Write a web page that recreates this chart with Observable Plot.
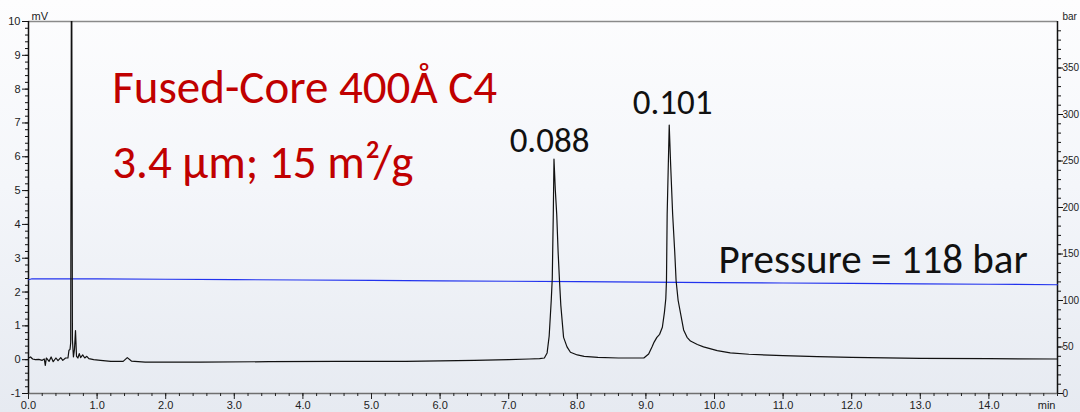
<!DOCTYPE html>
<html>
<head>
<meta charset="utf-8">
<script src="https://cdn.jsdelivr.net/npm/d3@7"></script>
<script src="https://cdn.jsdelivr.net/npm/@observablehq/plot@0.6"></script>
<style>
  html, body { margin: 0; padding: 0; }
  body { width: 1080px; height: 412px; overflow: hidden;
         background: linear-gradient(180deg, #fdfdfe 0%, #f4f6fa 45%, #e6eaf1 100%); }
  svg { display: block; }
</style>
</head>
<body>
<div id="chart"></div>
<script>
// ---- Data ----
// Detector signal: [time (min), signal (mV)]
const signalTime = [0.00,0.03,0.06,0.10,0.15,0.20,0.23,0.245,0.26,0.30,0.33,0.36,0.40,0.43,0.47,0.50,0.54,0.575,0.59,0.605,0.615,0.628,0.64,0.655,0.67,0.685,0.70,0.72,0.74,0.76,0.79,0.82,0.85,0.88,0.95,1.05,1.20,1.38,1.44,1.50,1.70,2.50,3.50,4.50,5.50,6.50,7.00,7.30,7.45,7.52,7.56,7.59,7.62,7.635,7.65,7.66,7.68,7.70,7.72,7.74,7.76,7.80,7.85,7.90,8.00,8.10,8.30,8.60,8.97,9.04,9.09,9.12,9.16,9.20,9.24,9.27,9.29,9.30,9.31,9.34,9.36,9.39,9.42,9.44,9.47,9.55,9.60,9.65,9.75,9.84,10.04,10.23,10.50,11.00,11.50,12.00,13.00,14.00,15.00];
const signalMV   = [0.05,0.08,0.02,0.00,0.01,-0.02,0.02,-0.17,0.05,-0.05,0.08,-0.06,0.05,-0.03,0.06,-0.02,0.05,0.05,0.28,0.30,0.50,14.0,0.60,0.08,0.30,0.86,0.10,0.05,0.18,0.06,0.14,0.05,0.10,0.03,0.00,-0.02,-0.05,-0.05,0.06,-0.04,-0.07,-0.07,-0.06,-0.05,-0.05,-0.02,0.00,0.02,0.03,0.05,0.20,0.70,1.75,2.40,4.30,5.93,5.00,4.30,3.20,2.35,1.60,0.66,0.38,0.22,0.14,0.10,0.07,0.05,0.05,0.17,0.38,0.52,0.66,0.75,0.96,1.40,1.80,2.34,4.30,6.94,5.80,4.30,3.20,2.34,1.75,0.88,0.66,0.55,0.45,0.38,0.27,0.20,0.16,0.12,0.09,0.07,0.04,0.03,0.02];

// Pump pressure: [time (min), pressure (bar)]
const pressureTime = [0,0.05,1,2,3,4,5,6,7,8,9,10,11,12,13,14,15];
const pressureBar  = [122.3,123.3,123.3,122.9,122.5,122.0,121.6,121.1,120.7,120.3,119.8,119.2,118.8,118.4,117.9,117.5,117.0];

// Axis ticks
const timeTicks = d3.range(0, 15, 1);            // 0.0 … 14.0
const timeMinor = d3.range(0, 15.01, 0.2);
const mvTicks = d3.range(-1, 11, 1);              // -1 … 10
const mvMinor = d3.range(-1, 10.01, 0.2);
const barTicks = [0,50,100,150,200,250,300,350];
const barMinor = d3.range(0, 400, 10);

// Annotations (data coordinates)
const titleLines = ["Fused-Core 400Å C4", "3.4 µm; 15 m²/g"];
const titleT = [1.22, 1.22];
const titleY = [7.59, 5.38];
const peakLabels = ["0.088", "0.101"];
const peakLabelT = [7.595, 9.39];
const peakLabelY = [6.14, 7.27];
const pressureLabel = ["Pressure = 118 bar"];
const pressureLabelT = [10.06];
const pressureLabelY = [2.565];

// Right axis mapping: 0–400 bar spans -1–10 mV
const barMax = 400, mvMin = -1, mvMax = 10;
const bar2mv = b => mvMin + b * (mvMax - mvMin) / barMax;
const mv2bar = v => (v - mvMin) * barMax / (mvMax - mvMin);

const signal = signalTime.map((t, i) => ({t, v: signalMV[i]}));
const pressure = pressureTime.map((t, i) => ({t, v: bar2mv(pressureBar[i])}));
const titles = titleLines.map((s, i) => ({s, t: titleT[i], v: titleY[i]}));
const peaks = peakLabels.map((s, i) => ({s, t: peakLabelT[i], v: peakLabelY[i]}));
const plab = pressureLabel.map((s, i) => ({s, t: pressureLabelT[i], v: pressureLabelY[i]}));

const bigFont = "Carlito, Calibri, Lato, 'Open Sans', sans-serif";

const chart = Plot.plot({
  width: 1080,
  height: 412,
  marginLeft: 28,
  marginRight: 23,
  marginTop: 21,
  marginBottom: 19,
  style: { background: "transparent", fontFamily: "'Liberation Sans', Arial, sans-serif", fontSize: "11px", color: "#222" },
  x: { domain: [0, 15] },
  y: { domain: [mvMin, mvMax] },
  marks: [
    // frame lines
    Plot.ruleY([mvMax], { stroke: "#8a8a8a", strokeWidth: 1.5 }),
    Plot.ruleY([mvMin], { stroke: "#6f6f6f", strokeWidth: 1.5 }),
    Plot.ruleX([0], { stroke: "#111", strokeWidth: 1.5 }),
    Plot.ruleX([15], { stroke: "#111", strokeWidth: 1.5 }),
    // left axis
    Plot.axisY({ ticks: mvTicks, tickSize: 6, tickPadding: 2, tickFormat: d => d, label: null, stroke: "#111" }),
    Plot.axisY({ ticks: mvMinor, tickSize: 3, tickFormat: () => "", label: null, stroke: "#111" }),
    // right axis (bar)
    Plot.axisY({ anchor: "right", ticks: barTicks.map(bar2mv), tickSize: 5, tickPadding: 0, fontSize: 10, tickFormat: d => Math.round(mv2bar(d)), label: null, stroke: "#111" }),
    Plot.axisY({ anchor: "right", ticks: barMinor.map(bar2mv), tickSize: 3, tickFormat: () => "", label: null, stroke: "#111" }),
    // bottom axis
    Plot.axisX({ ticks: timeTicks, tickSize: 6, tickPadding: 2, tickFormat: d => d.toFixed(1), label: null, stroke: "#222" }),
    Plot.axisX({ ticks: timeMinor, tickSize: 3, tickFormat: () => "", label: null, stroke: "#222" }),
    // unit labels
    Plot.text(["mV"], { frameAnchor: "top-left", dx: 3, dy: -9, textAnchor: "start", fontSize: 11, fill: "#222" }),
    Plot.text(["bar"], { frameAnchor: "top-right", dx: 5, dy: -9, textAnchor: "start", fontSize: 10, fill: "#222" }),
    Plot.text(["min"], { frameAnchor: "bottom-right", dx: -2, dy: 15, textAnchor: "end", fontSize: 11, fill: "#222" }),
    // pressure trace
    Plot.line(pressure, { x: "t", y: "v", stroke: "#2233ee", strokeWidth: 1.1 }),
    // detector signal
    Plot.line(signal, { x: "t", y: "v", stroke: "#111", strokeWidth: 1.2, clip: true, curve: "linear" }),
    // annotations
    Plot.text(titles, { x: "t", y: "v", text: "s", textAnchor: "start", lineAnchor: "bottom", fontSize: 47, fill: "#c00000", fontFamily: bigFont }),
    Plot.text(peaks, { x: "t", y: "v", text: "s", textAnchor: "middle", lineAnchor: "bottom", fontSize: 35, fill: "#111", fontFamily: bigFont }),
    Plot.text(plab, { x: "t", y: "v", text: "s", textAnchor: "start", lineAnchor: "bottom", fontSize: 41, fill: "#111", fontFamily: bigFont })
  ]
});
document.getElementById("chart").appendChild(chart);
</script>
</body>
</html>
